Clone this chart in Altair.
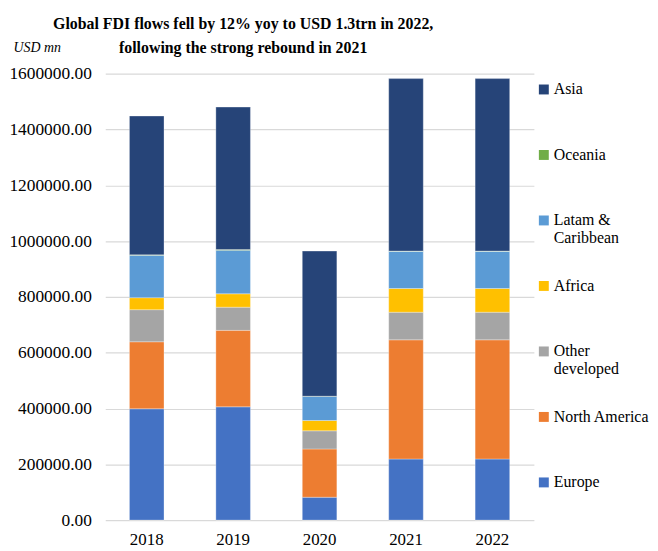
import altair as alt
import pandas as pd

years = ["2018", "2019", "2020", "2021", "2022"]
regions = ["Europe", "North America", "Other developed", "Africa",
           "Latam & Caribbean", "Oceania", "Asia"]
europe = [399000, 406000, 82000, 219000, 219000]
north_america = [240000, 274000, 173000, 427000, 427000]
other_developed = [115000, 83000, 65000, 99000, 99000]
africa = [43000, 48000, 37000, 85000, 85000]
latam_caribbean = [152000, 156000, 86000, 133000, 133000]
oceania = [1500, 2500, 1000, 1000, 1000]
asia = [497500, 510500, 520000, 618000, 618000]
colors = ["#264478", "#70AD47", "#5B9BD5", "#FFC000", "#A5A5A5", "#ED7D31", "#4472C4"]
y_ticks = [0, 200000, 400000, 600000, 800000, 1000000, 1200000, 1400000, 1600000]

series = [europe, north_america, other_developed, africa, latam_caribbean, oceania, asia]
rows = []
for i, (name, vals) in enumerate(zip(regions, series)):
    for y, v in zip(years, vals):
        rows.append({"year": y, "region": name, "value": v, "order": i})
df = pd.DataFrame(rows)

legend_order = regions[::-1]
FONT = "Liberation Serif"
W = 432

label_expr = ("datum.label == 'Latam & Caribbean' ? ['Latam &', 'Caribbean'] : "
              "datum.label == 'Other developed' ? ['Other', 'developed'] : datum.label")

chart = alt.Chart(df).mark_bar(stroke="#ffffff", strokeWidth=0.6, strokeOpacity=0.5).encode(
    x=alt.X("year:N", sort=years,
            scale=alt.Scale(paddingInner=0.6, paddingOuter=0.28),
            axis=alt.Axis(title=None, labelAngle=0, ticks=False, domain=False,
                          labelFont=FONT, labelFontSize=17, labelColor="#000000",
                          labelPadding=12)),
    y=alt.Y("value:Q", stack="zero",
            scale=alt.Scale(domain=[0, 1600000], nice=False),
            axis=alt.Axis(values=y_ticks, format=".2f", ticks=False, domain=False,
                          gridColor="#d9d9d9", gridWidth=1.2,
                          labelFont=FONT, labelFontSize=17.5, labelColor="#000000",
                          labelPadding=14,
                          title="USD mn", titleAngle=0, titleFont=FONT,
                          titleFontStyle="italic", titleFontWeight="normal",
                          titleFontSize=14, titleColor="#000000",
                          titleAlign="left", titleBaseline="middle",
                          titleX=-93, titleY=-26)),
    color=alt.Color("region:N",
                    scale=alt.Scale(domain=legend_order, range=colors),
                    legend=alt.Legend(title=None, orient="none", legendX=W + 2, legendY=8,
                                      symbolType="square", symbolSize=100,
                                      symbolStrokeWidth=0, labelFont=FONT,
                                      labelFontSize=16, labelColor="#000000",
                                      labelExpr=label_expr, gridAlign="all",
                                      rowPadding=32, labelOffset=2, padding=0)),
    order=alt.Order("order:Q", sort="ascending"),
).properties(
    width=W, height=450,
    padding={"left": 0, "top": 6, "right": 0, "bottom": 0},
    title=alt.TitleParams(
        ["Global FDI flows fell by 12% yoy to USD 1.3trn in 2022,",
         "following the strong rebound in 2021"],
        font=FONT, fontSize=16, fontWeight="bold", color="#000000",
        anchor="middle", frame="group", dx=-77, lineHeight=24, offset=-15),
).configure_view(stroke=None)

chart.save("out.html", embed_options={"renderer": "svg", "actions": False})
